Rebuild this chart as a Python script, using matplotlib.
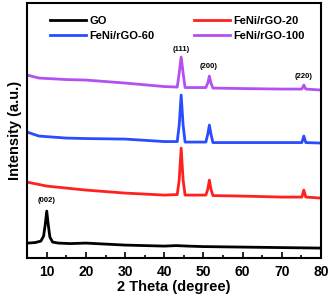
import matplotlib.pyplot as plt

plt.rcParams['font.family'] = ['Liberation Sans', 'DejaVu Sans']
plt.rcParams['font.weight'] = 'bold'

# 2 theta / intensity points (arbitrary units)
go_x = [5, 7, 8.5, 9.2, 9.6, 10, 10.4, 10.8, 11.5, 13, 16, 20, 25, 30, 40, 43, 46, 50, 60, 70, 80]
go_y = [15, 15.5, 17, 22, 33, 47, 33, 21, 16, 15, 14.5, 15, 14, 13, 12, 12.5, 12, 11.5, 11, 10.5, 10]

rgo20_x = [5, 10, 15, 20, 30, 40, 43.3, 43.8, 44.3, 44.8, 45.3, 50.6, 51.1, 51.5, 51.9, 52.4,
           60, 70, 75.1, 75.6, 76.1, 80]
rgo20_y = [76, 72, 70, 68, 65, 63, 63.5, 78, 110, 78, 63, 63, 69, 78, 69, 62.5,
           62, 61, 61, 68, 61, 60]

rgo60_x = [5, 8, 15, 20, 30, 40, 43.3, 43.8, 44.3, 44.8, 45.3, 50.6, 51.1, 51.5, 51.9, 52.4,
           60, 70, 75.1, 75.6, 76.1, 80]
rgo60_y = [126, 122, 120, 119.5, 119, 116.5, 116.5, 133, 163, 133, 116, 116, 124, 133, 124, 115.5,
           115.5, 115.5, 115.5, 122, 115.5, 115]

rgo100_x = [5, 8, 15, 20, 30, 40, 43.3, 43.8, 44.3, 44.8, 45.3, 50.6, 51.1, 51.5, 51.9, 52.4,
            60, 70, 75.1, 75.6, 76.1, 80]
rgo100_y = [183, 180, 178.5, 178, 175, 171.5, 171, 185, 201, 185, 170.5, 170.5, 175, 182, 175, 170,
            169.5, 169, 169, 173, 169, 168]

peak_labels = ['(002)', '(111)', '(200)', '(220)']
peak_label_x = [10, 44.2, 51.4, 75.6]
peak_label_y = [54, 205, 188, 178]

fig = plt.figure(figsize=(3.31, 3.04), dpi=100)
ax = fig.add_axes([0.082, 0.151, 0.888, 0.839])

l_go, = ax.plot(go_x, go_y, color='black', lw=2, label='GO')
l_20, = ax.plot(rgo20_x, rgo20_y, color='#ff2020', lw=2, label='FeNi/rGO-20')
l_60, = ax.plot(rgo60_x, rgo60_y, color='#2a4cff', lw=2, label='FeNi/rGO-60')
l_100, = ax.plot(rgo100_x, rgo100_y, color='#b450f0', lw=2, label='FeNi/rGO-100')

for t, px, py in zip(peak_labels, peak_label_x, peak_label_y):
    ax.text(px, py, t, ha='center', va='bottom', fontsize=5.5, fontweight='bold')

ax.set_xlim(5, 80)
ax.set_ylim(0, 255)
ax.set_xticks(range(10, 81, 10))
ax.set_xticks(range(5, 81, 10), minor=True)
ax.set_yticks([])
ax.tick_params(axis='x', which='major', direction='in', length=4, width=1.2, labelsize=10, pad=5)
ax.tick_params(axis='x', which='minor', direction='in', length=2, width=1.2)
for lab in ax.get_xticklabels():
    lab.set_fontweight('bold')
for s in ax.spines.values():
    s.set_linewidth(1.5)

ax.set_xlabel('2 Theta (degree)', fontsize=10.5, fontweight='bold', labelpad=1)
ax.set_ylabel('Intensity (a.u.)', fontsize=10.5, fontweight='bold', labelpad=4)

ax.legend([l_go, l_60, l_20, l_100], ['GO', 'FeNi/rGO-60', 'FeNi/rGO-20', 'FeNi/rGO-100'],
          ncol=2, loc='upper left', frameon=False, fontsize=8,
          handlelength=3.2, handletextpad=0.3, columnspacing=3.6,
          labelspacing=0.5, bbox_to_anchor=(0.045, 0.99))

fig.savefig('out.png', dpi=100)
